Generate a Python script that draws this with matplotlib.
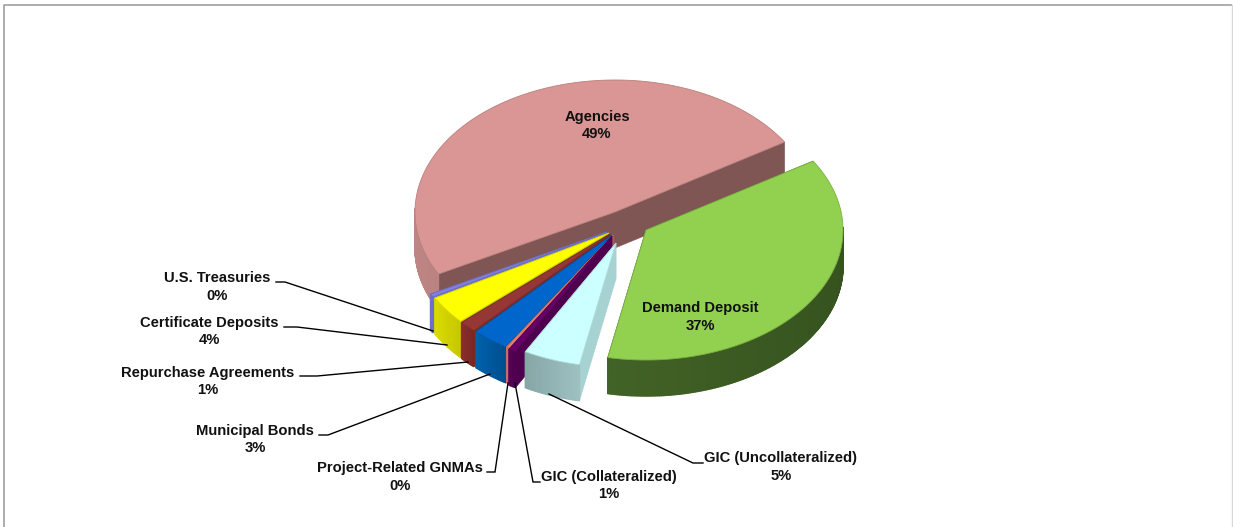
import numpy as np
import matplotlib
matplotlib.use('Agg')
import matplotlib.pyplot as plt
from matplotlib.colors import to_rgb

plt.rcParams['font.family'] = ['Liberation Sans', 'DejaVu Sans']

# counter clockwise from the right corner of Agencies
names = ['Agencies', 'U.S. Treasuries', 'Certificate Deposits', 'Repurchase Agreements',
         'Municipal Bonds', 'Project-Related GNMAs', 'GIC (Collateralized)',
         'GIC (Uncollateralized)', 'Demand Deposit']
values = [48.9, 0.4, 3.5, 1.4, 3.0, 0.3, 0.6, 4.9, 37.0]

top_colors = ['#D99694', '#8080E0', '#FFFF00', '#953735', '#0066CC', '#E8806A', '#660066', '#CCFFFF', '#92D050']
side_left = ['#BD8583', '#6F6FC8', '#DCDC00', '#8A2E2C', '#0062AE', '#C87060', '#5A005A', '#86A6A6', '#4A6E2C']
side_right = ['#8A5F5D', '#6F6FC8', '#C8C800', '#7A2825', '#00508E', '#C87060', '#4E004E', '#9DC0C0', '#36531F']
face_colors = ['#7F5654', '#6F6FC8', '#B0B000', '#7A2825', '#00508E', '#C87060', '#4E004E', '#A6D2D2', '#36531F']

# explosion of every slice, pixels, and how much smaller it looks
shift_x = [0, -8, -6, -5, -3, -2, -3, 1, 31]
shift_y = [0, 20, 21, 22, 23, 23, 24, 31, 18]
scale = [1, 1, 1, 1, 1, 1, 1, 0.94, 0.985]

cx, cy = 615, 212
rx, ry = 200, 132
depth = 36
start = 32

# label centre x, first line y, then leader line
label_x = {'Agencies': 597, 'Demand Deposit': 700, 'U.S. Treasuries': 217, 'Certificate Deposits': 209,
           'Repurchase Agreements': 208, 'Municipal Bonds': 255, 'Project-Related GNMAs': 400,
           'GIC (Collateralized)': 609, 'GIC (Uncollateralized)': 781}
label_y = {'Agencies': 117, 'Demand Deposit': 308, 'U.S. Treasuries': 278, 'Certificate Deposits': 323,
           'Repurchase Agreements': 373, 'Municipal Bonds': 431, 'Project-Related GNMAs': 468,
           'GIC (Collateralized)': 477, 'GIC (Uncollateralized)': 458}
leaders = {'U.S. Treasuries': [(276, 282), (285, 282), (433, 331)],
           'Certificate Deposits': [(284, 327), (297, 327), (447, 345)],
           'Repurchase Agreements': [(300, 376), (317, 376), (468, 362)],
           'Municipal Bonds': [(319, 435), (328, 435), (490, 374)],
           'Project-Related GNMAs': [(487, 472), (495, 472), (508, 383)],
           'GIC (Collateralized)': [(540, 482), (533, 482), (515, 383)],
           'GIC (Uncollateralized)': [(703, 463), (693, 463), (549, 394)]}

fig = plt.figure(figsize=(12.33, 5.27), dpi=100)
ax = fig.add_axes([0, 0, 1, 1])
ax.set_xlim(0, 1233)
ax.set_ylim(527, 0)
ax.axis('off')

# picture frame
ax.plot([3.5, 3.5, 1231.5], [527, 4.5, 4.5], color='#a0a0a0', lw=1.2, solid_capstyle='butt')
ax.plot([1231.5, 1231.5], [4.5, 527], color='#d8d8d8', lw=1.0)

edges = start + np.cumsum([0] + values) * 360.0 / sum(values)

def mix(a, b, t):
    a, b = np.array(to_rgb(a)), np.array(to_rgb(b))
    return tuple(a + (b - a) * t)

for i in range(len(names)):
    a0, a1 = edges[i], edges[i + 1]
    x0 = cx + shift_x[i]
    y0 = cy + shift_y[i]
    t = np.radians(np.linspace(a0, a1, max(int(a1 - a0) * 2, 4)))
    xs = x0 + rx * scale[i] * np.cos(t)
    ys = y0 - ry * scale[i] * np.sin(t)

    # the two cut faces
    for k in [0, -1]:
        ax.fill([x0, xs[k], xs[k], x0], [y0, ys[k], ys[k] + depth, y0 + depth],
                color=face_colors[i], ec=face_colors[i], lw=0.4, zorder=2 + i)

    # outer wall, only the part facing us, shaded left to right
    for j in range(len(t) - 1):
        if np.sin(t[j]) > 0.02 and np.sin(t[j + 1]) > 0.02:
            continue
        u = (xs[j] - (x0 - rx)) / (2 * rx)
        if i not in (0, 8):
            u = (j + 0.5) / (len(t) - 1)
        c = mix(side_left[i], side_right[i], u)
        ax.fill([xs[j], xs[j + 1], xs[j + 1], xs[j]],
                [ys[j], ys[j + 1], ys[j + 1] + depth, ys[j] + depth],
                color=c, ec=c, lw=1.0, zorder=2 + i)

    # top
    ax.fill(np.r_[x0, xs], np.r_[y0, ys], color=top_colors[i],
            ec=mix(top_colors[i], '#000000', 0.15), lw=0.6, zorder=2 + i)

for n in leaders:
    px, py = zip(*leaders[n])
    ax.plot(px, py, color='black', lw=1.0, zorder=30, solid_joinstyle='miter')

for n, v in zip(names, values):
    ax.text(label_x[n], label_y[n], n, ha='center', va='center', fontsize=10.6,
            fontweight='bold', color='#111111', zorder=40)
    ax.text(label_x[n], label_y[n] + 17.5, '%d%%' % round(v), ha='center', va='center', fontsize=10.6,
            fontweight='bold', color='#111111', zorder=40)

fig.savefig('out.png', dpi=100)
